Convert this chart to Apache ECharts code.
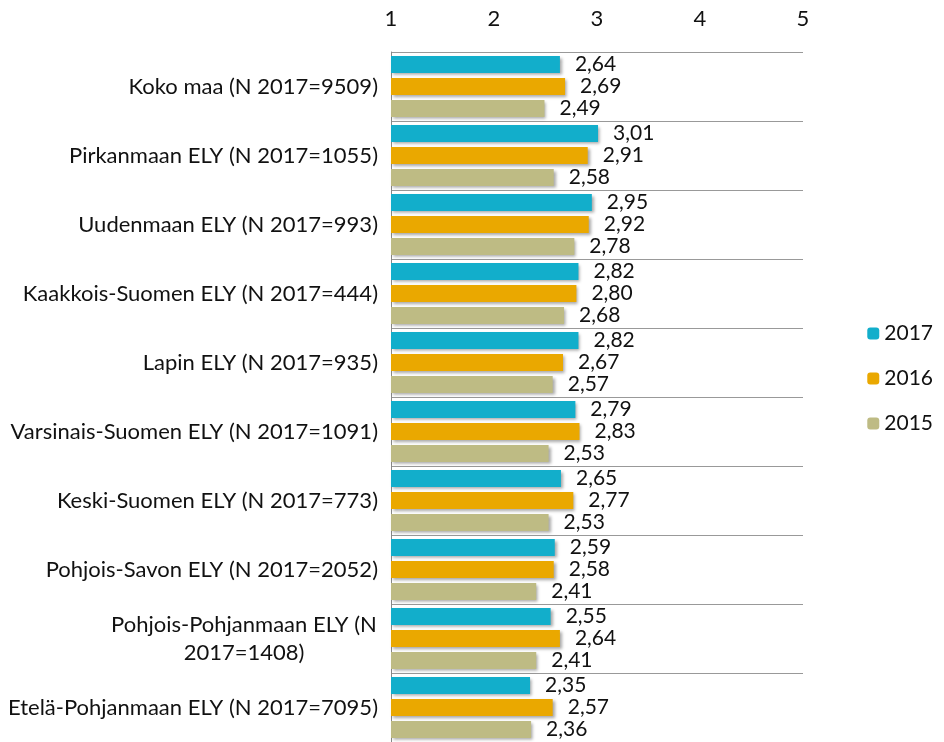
<!DOCTYPE html>
<html>
<head>
<meta charset="utf-8">
<script src="https://cdn.jsdelivr.net/npm/echarts@6/dist/echarts.min.js"></script>
<style>
  html, body { margin: 0; padding: 0; background: #fff; }
  #chart { width: 944px; height: 742px; }
</style>
</head>
<body>
<div id="chart"></div>
<script>
const categories = [
  'Koko maa (N 2017=9509)',
  'Pirkanmaan ELY (N 2017=1055)',
  'Uudenmaan ELY (N 2017=993)',
  'Kaakkois-Suomen ELY (N 2017=444)',
  'Lapin ELY (N 2017=935)',
  'Varsinais-Suomen ELY (N 2017=1091)',
  'Keski-Suomen ELY (N 2017=773)',
  'Pohjois-Savon ELY (N 2017=2052)',
  'Pohjois-Pohjanmaan ELY (N\n2017=1408)',
  'Etelä-Pohjanmaan ELY (N 2017=7095)'
];
const years = ['2017', '2016', '2015'];
const values2017 = [2.64, 3.01, 2.95, 2.82, 2.82, 2.79, 2.65, 2.59, 2.55, 2.35];
const values2016 = [2.69, 2.91, 2.92, 2.80, 2.67, 2.83, 2.77, 2.58, 2.64, 2.57];
const values2015 = [2.49, 2.58, 2.78, 2.68, 2.57, 2.53, 2.53, 2.41, 2.41, 2.36];
const xTicks = [1, 2, 3, 4, 5];

const colors = ['#12AECB', '#EAA800', '#BEBB84'];
const fontFamily = 'Lato, "Open Sans", sans-serif';

const myChart = echarts.init(document.getElementById('chart'));

const mkSeries = (name, data, color) => ({
  name: name,
  type: 'bar',
  data: data,
  barWidth: 17,
  barGap: '30%',
  itemStyle: {
    color: color,
    shadowColor: 'rgba(0,0,0,0.35)',
    shadowBlur: 3,
    shadowOffsetX: 2,
    shadowOffsetY: 2
  },
  label: {
    show: true,
    position: 'right',
    distance: 15,
    color: '#111',
    fontSize: 21,
    fontFamily: fontFamily,
    formatter: p => p.value.toFixed(2).replace('.', ',')
  }
});

const option = {
  color: colors,
  animation: false,
  grid: {
    left: 391,
    right: 141,
    top: 52,
    bottom: 0,
    containLabel: false
  },
  legend: {
    orient: 'vertical',
    right: 6,
    top: 318,
    itemWidth: 12,
    itemHeight: 12,
    itemGap: 24,
    data: years,
    textStyle: { fontSize: 21, color: '#111', fontFamily: fontFamily }
  },
  xAxis: {
    type: 'value',
    position: 'top',
    min: xTicks[0],
    max: xTicks[xTicks.length - 1],
    interval: 1,
    axisLine: { show: false },
    axisTick: { show: false },
    splitLine: { show: false },
    axisLabel: {
      fontSize: 22,
      color: '#111',
      margin: 22,
      fontFamily: fontFamily
    }
  },
  yAxis: {
    type: 'category',
    inverse: true,
    data: categories,
    axisLine: { show: true, lineStyle: { color: '#888', width: 1 } },
    axisTick: { show: false },
    splitLine: { show: true, lineStyle: { color: '#999', width: 1 } },
    axisLabel: {
      margin: 13,
      fontSize: 22,
      color: '#111',
      fontFamily: fontFamily,
      formatter: v => v.indexOf('\n') >= 0
        ? v.split('\n').map(s => '{c|' + s + '}').join('\n')
        : v,
      rich: {
        c: { width: 268, align: 'center', fontSize: 22, color: '#111', fontFamily: fontFamily, lineHeight: 28 }
      }
    }
  },
  series: [
    mkSeries(years[0], values2017, colors[0]),
    mkSeries(years[1], values2016, colors[1]),
    mkSeries(years[2], values2015, colors[2])
  ]
};
myChart.setOption(option);

window.addEventListener('resize', () => myChart.resize());
</script>
</body>
</html>
